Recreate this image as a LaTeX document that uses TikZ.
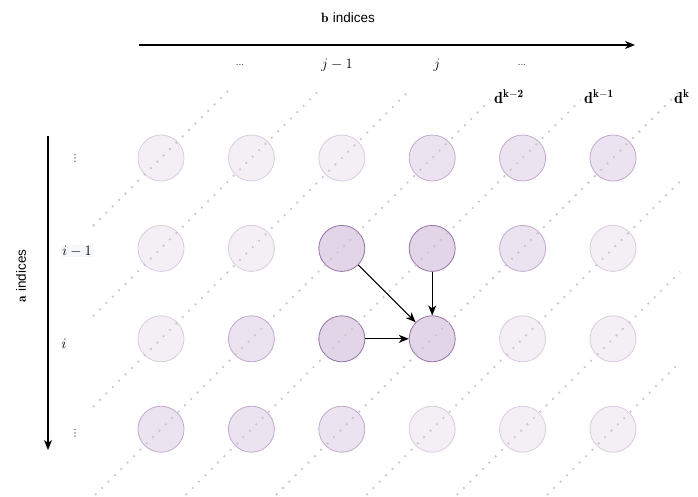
\documentclass[tikz,border=0pt]{standalone}
\usepackage{fontspec}
\newfontfamily\sansf{Liberation Sans}
\newfontfamily\dejavu{DejaVu Sans}
\usetikzlibrary{arrows.meta}
\definecolor{dkfill}{HTML}{E1D5E7}
\definecolor{dkdraw}{HTML}{9673A6}
\definecolor{mdfill}{HTML}{EBE3EF}
\definecolor{mddraw}{HTML}{C3A9CE}
\definecolor{ltfill}{HTML}{F3EFF5}
\definecolor{ltdraw}{HTML}{DACBE1}
\definecolor{dotgray}{HTML}{C8C8C8}
\definecolor{lblbg}{HTML}{F6F7F9}
\begin{document}
\begin{tikzpicture}[x=1pt,y=-1pt,
  cbase/.style={circle, minimum size=46pt, inner sep=0pt, line width=0.8pt},
  cdark/.style={cbase, draw=dkdraw, fill=dkfill},
  cmed/.style={cbase, draw=mddraw, fill=mdfill},
  clight/.style={cbase, draw=ltdraw, fill=ltfill},
  dotline/.style={dotgray, line width=1.8pt, dash pattern=on 1.8pt off 7.2pt},
  axis/.style={line width=1.3pt, -{Stealth[length=10pt,width=8pt,inset=3pt]}},
  link/.style={line width=1.2pt, -{Stealth[length=10pt,width=8pt,inset=3pt]}},
  mlabel/.style={font=\fontsize{15}{18}\selectfont, inner sep=1pt},
  dlabel/.style={font=\fontsize{16}{19}\selectfont, inner sep=0pt},
  smalldots/.style={font=\fontsize{10}{12}\selectfont\sansf, text=black!80, inner sep=0pt},
  vdotlbl/.style={font=\fontsize{10}{12}\selectfont\dejavu, text=black!80, inner sep=0pt},
  axlabel/.style={font=\fontsize{13.5}{16}\selectfont, inner sep=0pt}
]
\useasboundingbox (0,0) rectangle (698,496);
\clip (0,0) rectangle (698,496);

% circles
\foreach \r/\y in {1/158,2/248.4,3/338.8,4/429.2}{
  \foreach \c/\x in {1/161,2/251.4,3/341.8,4/432.2,5/522.6,6/613}{
    \coordinate (p\r\c) at (\x,\y);
  }
}
\foreach \r/\c/\st in {1/1/clight,1/2/clight,1/3/clight,1/4/cmed,1/5/cmed,1/6/cmed,
                       2/1/clight,2/2/clight,2/3/cdark,2/4/cdark,2/5/cmed,2/6/clight,
                       3/1/clight,3/2/cmed,3/3/cdark,3/4/cdark,3/5/clight,3/6/clight,
                       4/1/cmed,4/2/cmed,4/3/cmed,4/4/clight,4/5/clight,4/6/clight}{
  \node[\st] (n\r\c) at (p\r\c) {};
}

% anti-diagonals
\draw[dotline] (93,226) -- (228,91);
\draw[dotline] (93,316.4) -- (318.4,91);
\draw[dotline] (93,406.8) -- (408.8,91);
\draw[dotline] (95.2,495) -- (490.2,100);
\draw[dotline] (185.6,495) -- (580.6,100);
\draw[dotline] (276,495) -- (680,91);
\draw[dotline] (366.4,495) -- (680,181.4);
\draw[dotline] (456.8,495) -- (680,271.8);
\draw[dotline] (547.2,495) -- (680,362.2);

% diagonal labels
\node[dlabel, anchor=west] (dk2) at (494,97) {$\mathbf{d^{k-2}}$};
\node[dlabel, anchor=west] (dk1) at (584,97) {$\mathbf{d^{k-1}}$};
\node[dlabel, anchor=west] (dk0) at (674,97) {$\mathbf{d^{k}}$};

% dependency arrows
\draw[link] (n23) -- (n34);
\draw[link] (n24) -- (n34);
\draw[link] (n33) -- (n34);

% b axis
\coordinate (bs) at (139,45);
\coordinate (be) at (635,45);
\draw[axis] (bs) -- (be);
\node[axlabel] (bl) at (348,18) {$\mathbf{b}$ {\sansf indices}};
\node[smalldots] (t1) at (240,65) {...};
\node[mlabel] (t2) at (337,65) {$j-1$};
\node[mlabel] (t3) at (437,65) {$j$};
\node[smalldots] (t4) at (522,65) {...};

% a axis
\coordinate (as) at (48,136);
\coordinate (ae) at (48,450);
\draw[axis] (as) -- (ae);
\node[axlabel, rotate=90] (al) at (21,276) {$\mathbf{a}$ {\sansf indices}};
\node[vdotlbl] (l1) at (75,158) {⋮};
\node[mlabel, fill=lblbg] (l2) at (77,251) {$i-1$};
\node[mlabel, fill=lblbg] (l3) at (64,344) {$i$};
\node[vdotlbl] (l4) at (75,433) {⋮};
\end{tikzpicture}
\end{document}
